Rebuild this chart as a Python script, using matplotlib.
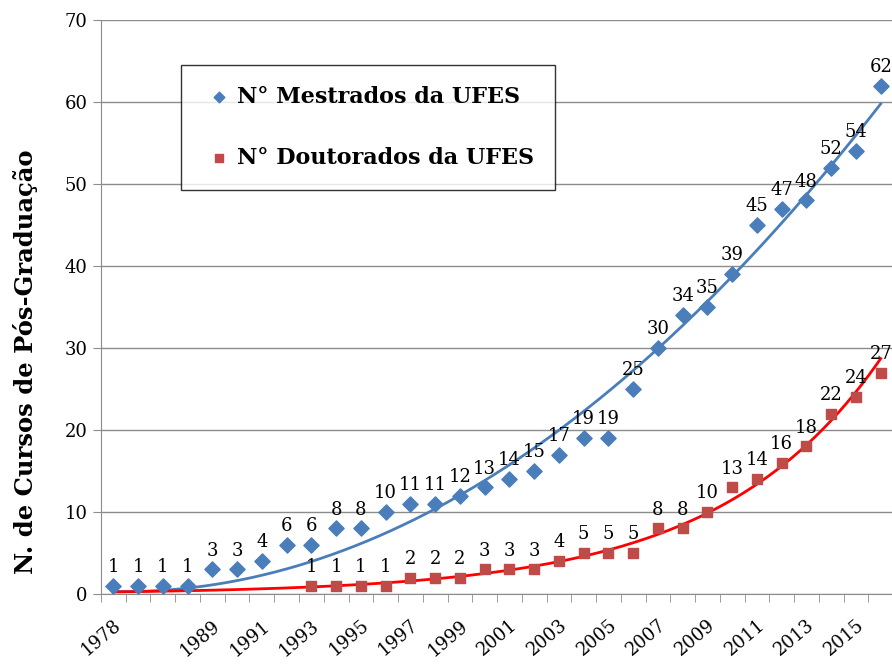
import matplotlib.pyplot as plt
import numpy as np

# anos (categorias); só alguns rótulos aparecem no eixo
anos = ["1978", "", "", "", "1989", "1990", "1991", "1992", "1993", "1994",
        "1995", "1996", "1997", "1998", "1999", "2000", "2001", "2002", "2003",
        "2004", "2005", "2006", "2007", "2008", "2009", "2010", "2011", "2012",
        "2013", "2014", "2015", "2016"]
mestrados = [1, 1, 1, 1, 3, 3, 4, 6, 6, 8, 8, 10, 11, 11, 12, 13, 14, 15, 17,
             19, 19, 25, 30, 34, 35, 39, 45, 47, 48, 52, 54, 62]
# doutorados a partir de 1993
inicio_dout = 8
doutorados = [1, 1, 1, 1, 2, 2, 2, 3, 3, 3, 4, 5, 5, 5, 8, 8, 10, 13, 14, 16,
              18, 22, 24, 27]
# equação da linha de tendência dos mestrados (x = índice)
tendencia_mestrados = [0.0635, -0.05, 0.3]

azul = '#4a7ebb'
vermelho = '#be4b48'
serif = 'DejaVu Serif'

fig = plt.figure(figsize=(8.92, 6.64), dpi=100)
ax = fig.add_axes([0.1132, 0.1054, 0.8880, 0.8645])

xm = np.arange(len(mestrados))
xd = np.arange(inicio_dout, inicio_dout + len(doutorados))
xx = np.linspace(0, len(mestrados) - 1, 200)

# tendências: polinomial para mestrados, exponencial para doutorados
ax.plot(xx, np.polyval(tendencia_mestrados, xx), color=azul, lw=2, zorder=2)
pe = np.polyfit(xd, np.log(doutorados), 1)
ax.plot(xx, np.exp(np.polyval(pe, xx)), color='red', lw=2, zorder=2)

ax.scatter(xm, mestrados, marker='D', s=60, color=azul, zorder=3,
           label='N° Mestrados da UFES')
ax.scatter(xd, doutorados, marker='s', s=55, color=vermelho, zorder=3,
           label='N° Doutorados da UFES')

for x, v in zip(xm, mestrados):
    ax.annotate(str(v), (x, v), xytext=(0, 7), textcoords='offset points',
                ha='center', va='bottom', fontsize=13, family=serif)
for x, v in zip(xd, doutorados):
    ax.annotate(str(v), (x, v), xytext=(0, 7), textcoords='offset points',
                ha='center', va='bottom', fontsize=13, family=serif)

ax.set_xlim(-0.5, len(anos) - 0.5)
ax.set_ylim(0, 70)
ax.set_yticks(range(0, 71, 10))
ax.grid(axis='y', color='#8c8c8c', lw=1)
ax.set_axisbelow(True)

# rótulos de ano em categorias alternadas, marcas entre categorias
ax.set_xticks(xm[::2])
ax.set_xticklabels(anos[::2], rotation=40, ha='right', rotation_mode='anchor',
                   fontsize=13, family=serif)
ax.set_xticks(np.arange(-0.5, len(anos), 1), minor=True)
ax.tick_params(axis='x', which='major', length=0, pad=16)
ax.tick_params(axis='x', which='minor', length=6, color='#8c8c8c')
ax.tick_params(axis='y', length=6, color='#8c8c8c', labelsize=13)
for t in ax.get_yticklabels():
    t.set_family(serif)

for s in ['top', 'right']:
    ax.spines[s].set_visible(False)
for s in ['left', 'bottom']:
    ax.spines[s].set_color('#8c8c8c')

ax.set_ylabel('N. de Cursos de Pós-Graduação', fontsize=17.5, fontweight='bold',
              family=serif)
ax.yaxis.set_label_coords(-0.08, 0.404)

leg = ax.legend(loc='upper left', bbox_to_anchor=(0.101, 0.922),
                prop={'family': serif, 'weight': 'bold', 'size': 16},
                frameon=True, fancybox=False, edgecolor='black',
                handletextpad=0.05, labelspacing=1.75, borderpad=0.95,
                markerscale=0.7, handlelength=1.5, borderaxespad=0)
leg.get_frame().set_linewidth(1)

fig.savefig('out.png', dpi=100)
